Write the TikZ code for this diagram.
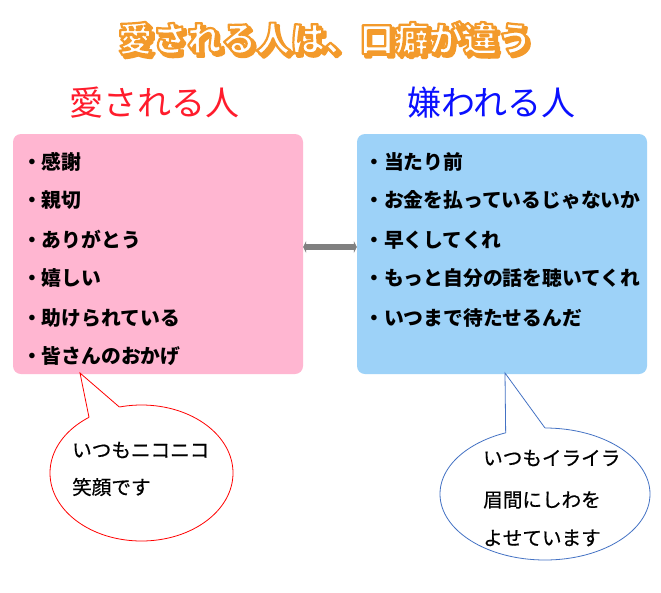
\documentclass[tikz,border=0pt]{standalone}
\usepackage{fontspec}
\setmainfont{Noto Sans CJK JP}
\newfontfamily\calfont{Noto Sans CJK JP}[FakeBold=0.6]
\usetikzlibrary{arrows.meta,calc}
\definecolor{pinkbox}{HTML}{FFB6D1}
\definecolor{bluebox}{HTML}{9DD2F8}
\definecolor{titleor}{HTML}{F39A2B}
\definecolor{headred}{HTML}{FF1C2C}
\definecolor{headblue}{HTML}{0A10FF}
\definecolor{callblue}{HTML}{4472C4}
\definecolor{arrowgray}{HTML}{808080}
\tikzset{
  boxnode/.style={rounded corners=8pt, draw=none, minimum width=290pt, minimum height=240pt, inner sep=0pt},
  item/.style={anchor=west, inner sep=0pt, font=\fontsize{19.8}{22}\selectfont\bfseries, text=black},
  heading/.style={inner sep=0pt, font=\fontsize{34}{38}\selectfont},
  calltext/.style={anchor=west, inner sep=0pt, font=\fontsize{19.6}{22}\selectfont\calfont, text=black},
  titlefont/.style={inner sep=0pt, font=\fontsize{34.5}{38}\selectfont\bfseries},
}
\newcommand{\ttl}{愛される人は、口癖が違う}
\newcommand{\outlined}[3]{{\color{#1}\special{pdf:literal direct 2 Tr #3 w 1 j #2 RG}\ttl\special{pdf:literal direct 0 Tr}}}
\begin{document}
\begin{tikzpicture}[x=1pt,y=-1pt]
\useasboundingbox[fill=white] (0,0) rectangle (661,592);
% title: orange shadow, then white text with orange outline
\node[titlefont] (tshadow) at (328,41) {\outlined{titleor}{0.953 0.604 0.169}{3}};
\node[titlefont] (title) at (325,38) {\outlined{white}{0.953 0.604 0.169}{2.2}};
% headings
\node[heading, text=headred] (hleft) at (154,103) {愛される人};
\node[heading, text=headblue] (hright) at (491.5,103) {嫌われる人};
% boxes
\node[boxnode, fill=pinkbox] (pink) at (158,254) {};
\node[boxnode, fill=bluebox] (blue) at (502,254) {};
% arrow
\draw[arrowgray, line width=6pt, {Triangle[length=3pt,width=12pt]}-{Triangle[length=3pt,width=12pt]}]
  ([yshift=7pt]pink.east) -- ([yshift=7pt]blue.west);
% left items
\node[item] (l1) at (22,162) {・感謝};
\node[item] (l2) at (22,200) {・親切};
\node[item] (l3) at (22,240) {・ありがとう};
\node[item] (l4) at (22,278) {・嬉しい};
\node[item] (l5) at (22,318) {・助けられている};
\node[item] (l6) at (22,356) {・皆さんのおかげ};
% right items
\node[item] (r1) at (364,162) {・当たり前};
\node[item] (r2) at (364,200) {・お金を払っているじゃないか};
\node[item] (r3) at (364,240) {・早くしてくれ};
\node[item] (r4) at (364,278) {・もっと自分の話を聴いてくれ};
\node[item] (r5) at (364,318) {・いつまで待たせるんだ};
% left callout
\coordinate (lc) at (141.5,473);
\coordinate (ltip) at (80,373);
\draw[red, line width=0.8pt, fill=white] (lc) ellipse [x radius=91.5, y radius=68];
\fill[white] ($(lc)+(-125:91.5 and 68)$) -- (ltip) -- ($(lc)+(-104:91.5 and 68)$) -- ($(lc)+(-104:80 and 58)$) -- ($(lc)+(-125:80 and 58)$) -- cycle;
\draw[red, line width=0.8pt] ($(lc)+(-125:91.5 and 68)$) -- (ltip) -- ($(lc)+(-104:91.5 and 68)$);
\node[calltext] (lt1) at (72,450) {いつもニコニコ};
\node[calltext] (lt2) at (72,487) {笑顔です};
% right callout
\coordinate (rc) at (545,494);
\coordinate (rtip) at (505,373);
\draw[callblue, line width=0.8pt, fill=white] (rc) ellipse [x radius=105, y radius=66];
\fill[white] ($(rc)+(-112:105 and 66)$) -- (rtip) -- ($(rc)+(-90:105 and 66)$) -- ($(rc)+(-90:92 and 56)$) -- ($(rc)+(-112:92 and 56)$) -- cycle;
\draw[callblue, line width=0.8pt] ($(rc)+(-112:105 and 66)$) -- (rtip) -- ($(rc)+(-90:105 and 66)$);
\node[calltext] (rt1) at (483,458) {いつもイライラ};
\node[calltext] (rt2) at (483,500) {眉間にしわを};
\node[calltext] (rt3) at (483,538) {よせています};
\end{tikzpicture}
\end{document}
